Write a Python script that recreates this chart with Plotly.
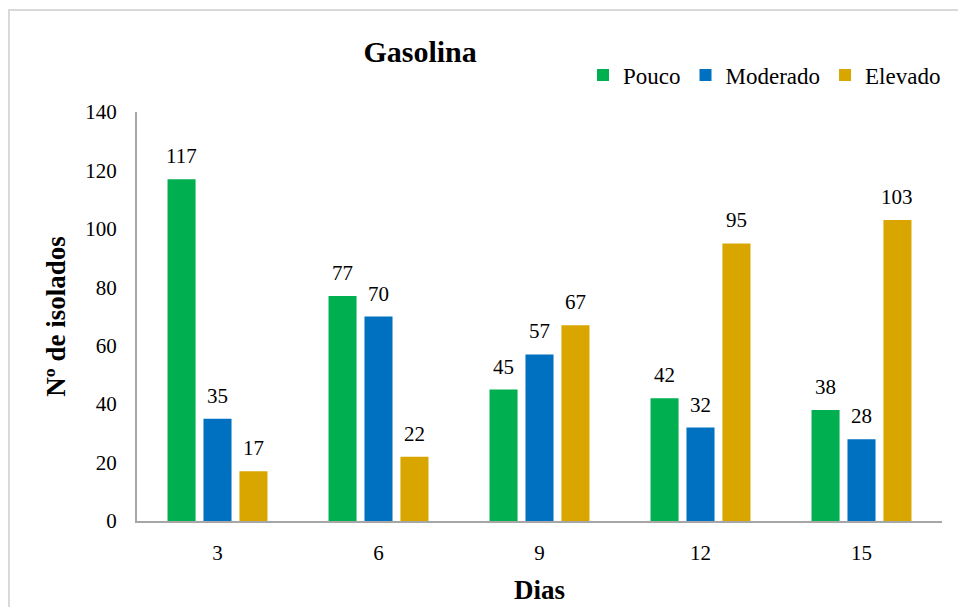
import plotly.graph_objects as go

dias = ["3", "6", "9", "12", "15"]
pouco = [117, 77, 45, 42, 38]
moderado = [35, 70, 57, 32, 28]
elevado = [17, 22, 67, 95, 103]

series = [
    ("Pouco", pouco, "#00B050"),
    ("Moderado", moderado, "#0070C0"),
    ("Elevado", elevado, "#D9A600"),
]

FONT = "Liberation Serif, Times New Roman, serif"

# plot area spans x 137..942, y 112..521 px
L, R, T, B = 137, 16, 112, 86
W, H = 958, 607
pw, ph = W - L - R, H - T - B
BARGAP, GROUPGAP = 0.33, 0.22
slot_px = pw / len(dias) * (1 - BARGAP) / len(series)


def px_x(x):
    return (x - L) / pw


def px_y(y):
    return (H - B - y) / ph


fig = go.Figure()
annotations = []
for i, (name, vals, color) in enumerate(series):
    fig.add_trace(go.Bar(
        x=dias, y=vals, name=name,
        marker=dict(color=color, line=dict(width=0)),
    ))
    # value labels above each bar (category index on x, shifted to the bar slot)
    for j, v in enumerate(vals):
        annotations.append(dict(
            x=j, y=v, xref="x", yref="y", text=str(v), showarrow=False,
            xanchor="center", yanchor="bottom",
            xshift=(i - 1) * slot_px, yshift=9,
            font=dict(family=FONT, size=21, color="#000000"),
        ))

fig.update_layout(
    width=W, height=H,
    margin=dict(l=L, r=R, t=T, b=B),
    paper_bgcolor="white", plot_bgcolor="white",
    barmode="group", bargap=BARGAP, bargroupgap=GROUPGAP,
    font=dict(family=FONT, size=21, color="#000000"),
    title=dict(text="<b>Gasolina</b>", x=px_x(490), xanchor="center",
               y=1 - 51 / H, yanchor="middle",
               font=dict(family=FONT, size=30, color="#000000")),
    legend=dict(orientation="h", x=px_x(946), xanchor="right",
                y=px_y(75), yanchor="middle",
                font=dict(family=FONT, size=23, color="#000000"),
                itemwidth=30, tracegroupgap=0, bgcolor="rgba(0,0,0,0)"),
    xaxis=dict(type="category", showline=True, linecolor="#A6A6A6",
               linewidth=2, ticks="", showgrid=False, automargin=False,
               tickfont=dict(family=FONT, size=21),
               ticklabelstandoff=12,
               title=dict(text="<b>Dias</b>", standoff=16,
                          font=dict(family=FONT, size=27))),
    yaxis=dict(range=[0, 140], dtick=20, showline=True, automargin=False,
               linecolor="#A6A6A6", linewidth=2, ticks="", showgrid=False,
               zeroline=False, tickfont=dict(family=FONT, size=21),
               ticklabelstandoff=14,
               title=dict(text="<b>Nº de isolados</b>", standoff=12,
                          font=dict(family=FONT, size=27))),
    annotations=annotations,
    shapes=[dict(type="rect", xref="paper", yref="paper",
                 x0=px_x(9), y0=px_y(620), x1=px_x(970), y1=px_y(10),
                 line=dict(color="#D9D9D9", width=2), layer="below")],
)

fig.write_html("out.html")
